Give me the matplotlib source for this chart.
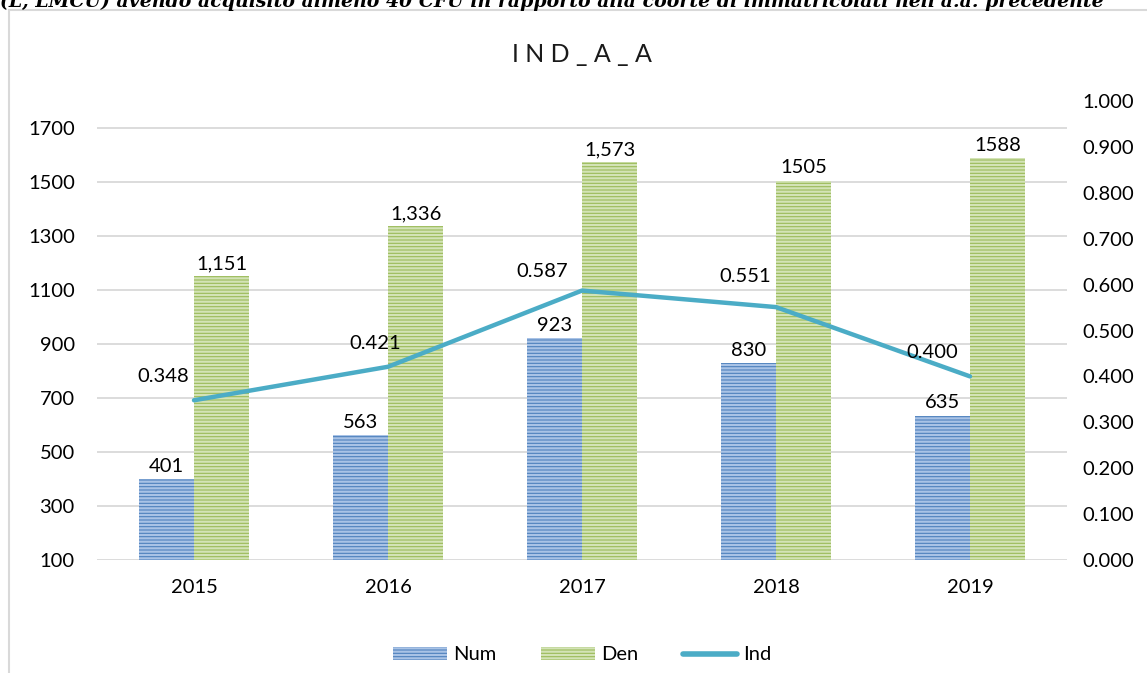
import matplotlib
matplotlib.use("Agg")
import matplotlib.pyplot as plt
import matplotlib.patches as mpatches
from matplotlib.lines import Line2D
import numpy as np

plt.rcParams['font.family'] = ['Lato', 'DejaVu Sans']
plt.rcParams['hatch.linewidth'] = 1.6

years = ['2015', '2016', '2017', '2018', '2019']
num = [401, 563, 923, 830, 635]
den = [1151, 1336, 1573, 1505, 1588]
ind = [0.348, 0.421, 0.587, 0.551, 0.400]
num_labels = ['401', '563', '923', '830', '635']
den_labels = ['1,151', '1,336', '1,573', '1505', '1588']
ind_labels = ['0.348', '0.421', '0.587', '0.551', '0.400']
# label offsets in points (left / above the point)
ind_offsets = [(-22, 17), (-9, 17), (-29, 14), (-22, 22), (-27, 17)]

header = ("(L, LMCU) avendo acquisito almeno 40 CFU in rapporto alla coorte "
          "di immatricolati nell'a.a. precedente")

fs = 14.5
fig = plt.figure(figsize=(11.47, 6.73), dpi=100)
W, H = 1147, 673

# chart frame
fig.patches.append(mpatches.Rectangle((9 / W, -0.1), 1.2, 1 - 10 / H + 0.1,
                                      transform=fig.transFigure, fill=False,
                                      edgecolor='#d9d9d9', linewidth=1.5))
# cut-off header from the page above
fig.text(0.0, 1 - 7 / H, header, fontsize=13.6, fontweight='bold', style='italic',
         family='DejaVu Serif', va='baseline', ha='left')

ax = fig.add_axes([97 / W, 1 - 560 / H, 970 / W, 459 / H])
x = np.arange(len(years))
w = 0.284

b1 = ax.bar(x - w / 2, np.array(num) - 100, w, bottom=100, color='#4f81bd',
            edgecolor='#a9c3e6', linewidth=0, hatch='-----', zorder=2)
b2 = ax.bar(x + w / 2, np.array(den) - 100, w, bottom=100, color='#9bbb59',
            edgecolor='#d3e3b6', linewidth=0, hatch='-----', zorder=2)

for xi, v, t in zip(x, num, num_labels):
    ax.annotate(t, (xi - w / 2, v), xytext=(0, 3), textcoords='offset points',
                ha='center', va='bottom', fontsize=fs, color='#000000')
for xi, v, t in zip(x, den, den_labels):
    ax.annotate(t, (xi + w / 2, v), xytext=(0, 3), textcoords='offset points',
                ha='center', va='bottom', fontsize=fs, color='#000000')

ax.set_xlim(-0.5, 4.5)
ax.set_ylim(100, 1800)
ax.set_yticks(range(100, 1800, 200))
ax.set_xticks(x)
ax.set_xticklabels(years)
ax.grid(axis='y', color='#d9d9d9', linewidth=1.3, zorder=0)
ax.set_axisbelow(True)
for s in ax.spines.values():
    s.set_visible(False)
ax.tick_params(axis='both', length=0, labelsize=fs, colors='#000000')
ax.tick_params(axis='y', pad=16)
ax.tick_params(axis='x', pad=14)

ax2 = ax.twinx()
ax2.plot(x, ind, color='#4bacc6', linewidth=3.2, solid_capstyle='round', zorder=3)
for xi, v, t, off in zip(x, ind, ind_labels, ind_offsets):
    ax2.annotate(t, (xi, v), xytext=off, textcoords='offset points',
                 ha='center', va='center', fontsize=fs, color='#000000')
ax2.set_ylim(0, 1)
ax2.set_yticks(np.arange(0, 1.01, 0.1))
ax2.set_yticklabels(['%.3f' % t for t in np.arange(0, 1.01, 0.1)])
for s in ax2.spines.values():
    s.set_visible(False)
ax2.tick_params(axis='y', length=0, labelsize=fs, pad=11, colors='#000000')

ax.set_title('I N D _ A _ A', fontsize=18, color='#1a1a1a', pad=28)

handles = [mpatches.Patch(facecolor='#4f81bd', edgecolor='#a9c3e6', linewidth=0, hatch='-----'),
           mpatches.Patch(facecolor='#9bbb59', edgecolor='#d3e3b6', linewidth=0, hatch='-----'),
           Line2D([], [], color='#4bacc6', linewidth=4, solid_capstyle='round')]
fig.legend(handles, ['Num', 'Den', 'Ind'], loc='center', bbox_to_anchor=(582 / W, 1 - 655 / H),
           ncol=3, frameon=False, fontsize=fs, handlelength=2.7, handleheight=0.6,
           handletextpad=0.3, columnspacing=2.2)

fig.savefig('out.png', dpi=100)
